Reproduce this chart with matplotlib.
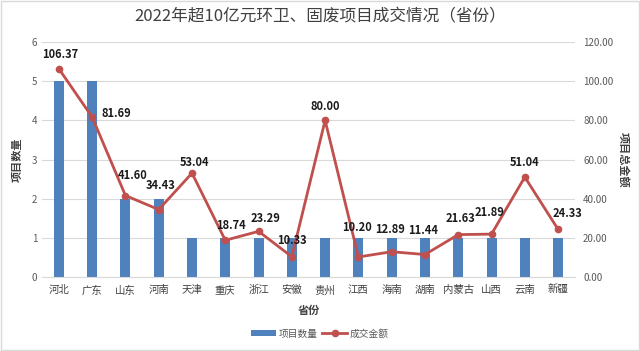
import matplotlib
matplotlib.use("Agg")
import matplotlib.pyplot as plt
from matplotlib.patches import Rectangle

plt.rcParams['font.family'] = ['Noto Sans CJK SC', 'DejaVu Sans']

provinces = ['河北', '广东', '山东', '河南', '天津', '重庆', '浙江', '安徽', '贵州', '江西',
             '海南', '湖南', '内蒙古', '山西', '云南', '新疆']
counts = [5, 5, 2, 2, 1, 1, 1, 1, 1, 1, 1, 1, 1, 1, 1, 1]
amounts = [106.37, 81.69, 41.60, 34.43, 53.04, 18.74, 23.29, 10.33, 80.00, 10.20,
           12.89, 11.44, 21.63, 21.89, 51.04, 24.33]
left_ticks = [0, 1, 2, 3, 4, 5, 6]
right_ticks = [0, 20, 40, 60, 80, 100, 120]

# label placement offsets (pixels: right, up) mirroring the reference's label layout
label_offsets = [(1, 14), (24, 4), (7, 20), (2, 24), (3, 11), (6, 15), (7, 13), (0, 16),
                 (0, 14), (-1, 29), (-2, 22), (-2, 24), (2, 16), (-2, 22), (0, 15), (9, 16)]

fig = plt.figure(figsize=(6.4, 3.51), dpi=100)
fig.patches.append(Rectangle((0.002, 0.003), 0.996, 0.994, transform=fig.transFigure,
                             fill=False, edgecolor='#d9d9d9', lw=1))
ax = fig.add_axes([0.066, 0.211, 0.832, 0.669])
x = list(range(len(provinces)))
ax.bar(x, counts, width=0.3, color='#4F81BD', label='项目数量', zorder=2)
ax.set_ylim(0, 6)
ax.set_xlim(-0.5, len(provinces) - 0.5)
ax.set_yticks(left_ticks)
ax.yaxis.grid(True, color='#d9d9d9', lw=0.8, zorder=0)
ax.set_axisbelow(True)
for s in ['top', 'right', 'left']:
    ax.spines[s].set_visible(False)
ax.spines['bottom'].set_color('#d9d9d9')
ax.tick_params(axis='both', length=0, labelsize=7, colors='#595959')
ax.tick_params(axis='x', labelsize=7.5, colors='#404040', pad=6)
ax.set_xticks(x)
ax.set_xticklabels(provinces)
ax.set_ylabel('项目数量', fontsize=8, color='#404040', fontweight='bold', labelpad=6)
ax.set_xlabel('省份', fontsize=8, color='#404040', fontweight='bold', labelpad=6)

ax2 = ax.twinx()
ax2.plot(x, amounts, color='#C0504D', lw=2, marker='o', markersize=4.5, label='成交金额', zorder=3)
ax2.set_ylim(0, 120)
ax2.set_yticks(right_ticks)
ax2.set_yticklabels([f'{v:.2f}' for v in right_ticks])
for s in ['top', 'right', 'left', 'bottom']:
    ax2.spines[s].set_visible(False)
ax2.tick_params(axis='y', length=0, labelsize=7, colors='#595959', pad=6)
ax2.set_ylabel('项目总金额', fontsize=8, color='#404040', fontweight='bold', rotation=270, labelpad=12)
for xi, v, (dx, dy) in zip(x, amounts, label_offsets):
    ax2.annotate(f'{v:.2f}', (xi, v), xytext=(dx * 0.72, dy * 0.72), textcoords='offset points',
                 ha='center', va='center', fontsize=8, fontweight='bold', color='#1a1a1a')

fig.suptitle('2022年超10亿元环卫、固废项目成交情况（省份）', x=0.5, y=0.975, fontsize=12,
             color='#404040')
h1, l1 = ax.get_legend_handles_labels()
h2, l2 = ax2.get_legend_handles_labels()
fig.legend(h1 + h2, l1 + l2, loc='center', bbox_to_anchor=(0.5, 0.05), ncol=2, frameon=False,
           fontsize=7, labelcolor='#595959', handlelength=2.5, columnspacing=0.5, handletextpad=0.3)
fig.savefig('out.png', dpi=100)
